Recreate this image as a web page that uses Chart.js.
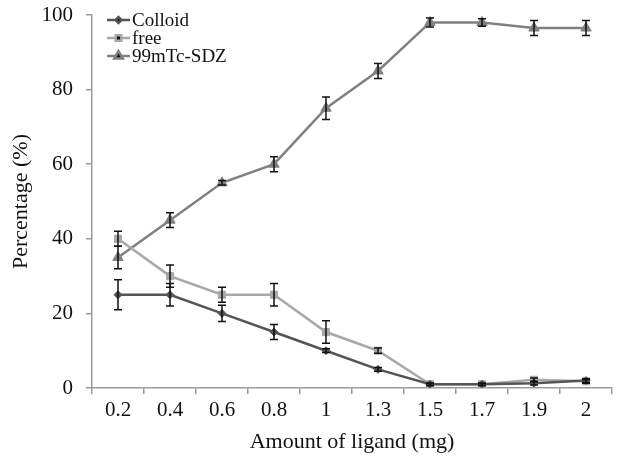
<!DOCTYPE html>
<html>
<head>
<meta charset="utf-8">
<script src="https://cdn.jsdelivr.net/npm/chart.js@4.4.0/dist/chart.umd.min.js"></script>
<style>
  html,body{margin:0;padding:0;background:#fff;}
  #wrap{width:619px;height:457px;position:relative;}
</style>
</head>
<body>
<div id="wrap"><canvas id="graphique"></canvas></div>
<script>
// valeurs
const doses=["0.2","0.4","0.6","0.8","1","1.3","1.5","1.7","1.9","2"]
const colloid=[25,25,20,15,10,5,1,1,1.3,2]
const colloidErr=[4,3,2.2,2,0.5,0.5,0.3,0.3,0.5,0.5]
const free=[40,30,25,25,15,10,1,1,2.2,1.8]
const freeErr=[2,3,2,3,3,0.7,0.3,0.3,0.5,0.5]
const sdz=[35,45,55,60,75,85,98,98,96.5,96.5]
const sdzErr=[3,2,0.6,2,3,2,1.2,1,2,2]
const yTicks=[0,20,40,60,80,100]

const serif="'Liberation Serif','Times New Roman',serif"

// barres d'erreur dessinees avec l'echelle y
const barresErreur={
    id:"barresErreur",
    afterDatasetsDraw(chart){
        const ctx=chart.ctx
        const y=chart.scales.y
        ctx.save()
        ctx.strokeStyle="#111"
        ctx.lineWidth=1.5
        chart.data.datasets.forEach((ds,d)=>{
            const meta=chart.getDatasetMeta(d)
            ds.erreurs.forEach((e,i)=>{
                const x=meta.data[i].x
                const y1=y.getPixelForValue(ds.data[i]+e)
                const y2=y.getPixelForValue(ds.data[i]-e)
                ctx.beginPath()
                ctx.moveTo(x,y1);ctx.lineTo(x,y2)
                ctx.moveTo(x-4,y1);ctx.lineTo(x+4,y1)
                ctx.moveTo(x-4,y2);ctx.lineTo(x+4,y2)
                ctx.stroke()
            })
        })
        ctx.restore()
    }
}

// legende a l'interieur du graphique
const legendeInterne={
    id:"legendeInterne",
    afterDraw(chart){
        const ctx=chart.ctx
        ctx.save()
        ctx.font="19px "+serif
        ctx.textBaseline="middle"
        chart.data.datasets.forEach((ds,d)=>{
            const yy=20+d*18
            ctx.strokeStyle=ds.borderColor
            ctx.lineWidth=2.5
            ctx.beginPath();ctx.moveTo(107,yy);ctx.lineTo(130,yy);ctx.stroke()
            Chart.helpers.drawPoint(ctx,{pointStyle:ds.pointStyle,radius:ds.pointRadius-1,rotation:0,borderWidth:1},118.5,yy)
            ctx.fillStyle="#111"
            ctx.fillText(ds.label,132,yy+1)
        })
        ctx.restore()
    }
}

const data={
    labels:doses,
    datasets:[
        {label:"Colloid",data:colloid,erreurs:colloidErr,borderColor:"#555555",backgroundColor:"#555555",
         pointStyle:"rectRot",pointRadius:4},
        {label:"free",data:free,erreurs:freeErr,borderColor:"#a8a8a8",backgroundColor:"#a8a8a8",
         pointStyle:"rect",pointRadius:5},
        {label:"99mTc-SDZ",data:sdz,erreurs:sdzErr,borderColor:"#808080",backgroundColor:"#808080",
         pointStyle:"triangle",pointRadius:6}
    ]
}
data.datasets.forEach(ds=>{ds.borderWidth=2.5;ds.tension=0;ds.pointBorderWidth=1})

const config={
    type:"line",
    data:data,
    options:{
        responsive:true,
        maintainAspectRatio:false,
        animation:false,
        layout:{padding:{top:15,right:2,left:0,bottom:0}},
        plugins:{legend:{display:false},tooltip:{enabled:false}},
        scales:{
            x:{
                offset:true,
                afterFit(s){s.height=69;s.paddingLeft=0;s.paddingRight=0},
                grid:{display:true,offset:true,drawOnChartArea:false,tickLength:6,color:"#9a9a9a",lineWidth:1.5},
                border:{color:"#9a9a9a",width:1.5},
                ticks:{color:"#111",font:{family:serif,size:21},padding:4,maxRotation:0},
                title:{display:true,text:"Amount of ligand (mg)",color:"#111",font:{family:serif,size:22},padding:{top:0,bottom:2}}
            },
            y:{
                min:0,max:100,
                afterFit(s){s.width=92;s.paddingTop=0;s.paddingBottom=0},
                afterBuildTicks(s){s.ticks=yTicks.map(v=>({value:v}))},
                grid:{display:true,drawOnChartArea:false,tickLength:6,color:"#9a9a9a",lineWidth:1.5},
                border:{color:"#9a9a9a",width:1.5},
                ticks:{color:"#111",font:{family:serif,size:21},padding:13},
                title:{display:true,text:"Percentage (%)",color:"#111",font:{family:serif,size:22},padding:{top:8,bottom:0}}
            }
        }
    },
    plugins:[barresErreur,legendeInterne]
}

new Chart(document.querySelector("#graphique"),config)
</script>
</body>
</html>
